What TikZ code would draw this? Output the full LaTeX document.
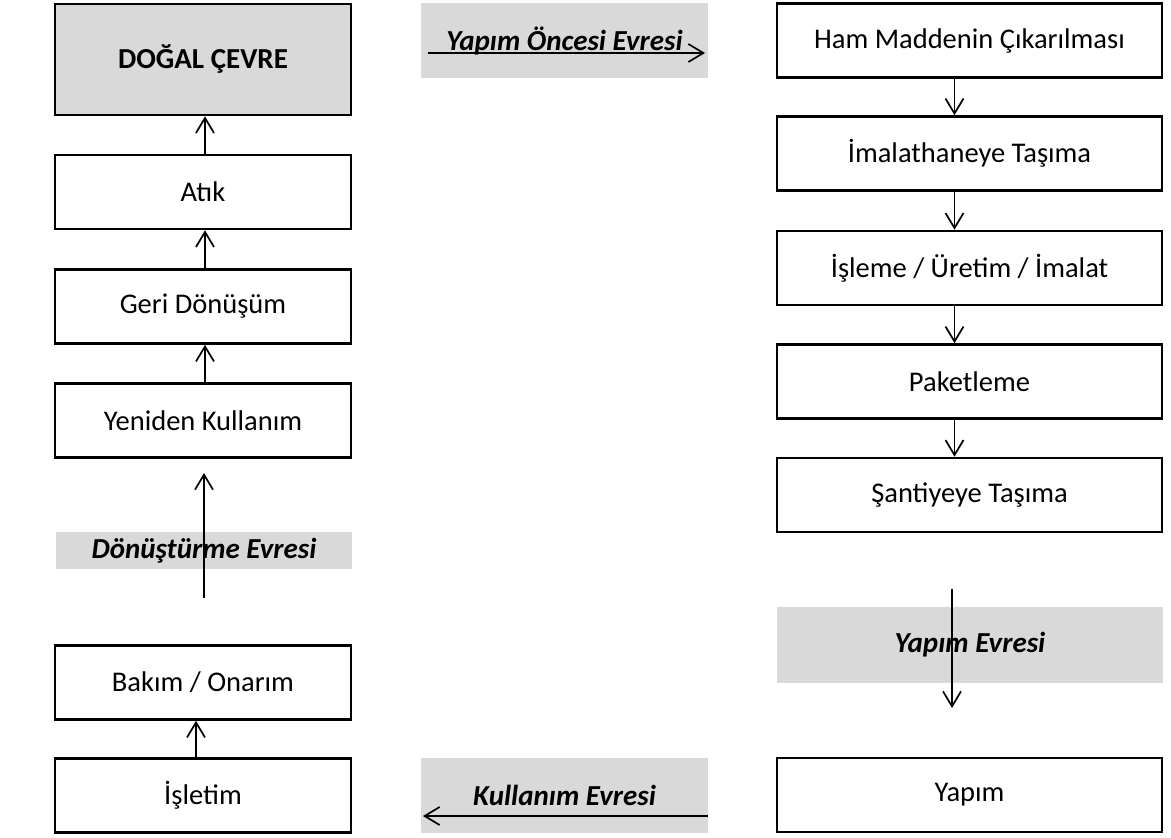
\documentclass[tikz,border=0pt]{standalone}
\usepackage{fontspec}
\setmainfont{Carlito}
\usetikzlibrary{arrows.meta}

\begin{document}
\begin{tikzpicture}[x=1pt,y=-1pt,
    kutu/.style={draw,line width=2.6pt,minimum width=296pt,minimum height=74pt,inner sep=0pt,font=\fontsize{28.5}{32}\selectfont},
    evre/.style={fill=black!15,inner sep=0pt,font=\fontsize{29}{33}\selectfont\bfseries\itshape},
    ok/.style={line width=1.7pt,-{Straight Barb[length=15pt,width=18pt,line width=1.7pt]}}]
    \useasboundingbox (0,0) rectangle (1171,838);

    % sol sutun
    \node (dogal) at (203,59.5) [kutu,fill=black!15,minimum height=111pt,font=\fontsize{29}{33}\selectfont\bfseries] {DOĞAL ÇEVRE};
    \node (atik) at (203,192) [kutu] {Atık};
    \node (geri) at (203,306.5) [kutu] {Geri Dönüşüm};
    \node (yeniden) at (203,420.5) [kutu] {Yeniden Kullanım};
    \node (donusturme) at (204,550.5) [evre,minimum width=296pt,minimum height=37pt] {Dönüştürme Evresi};
    \node (bakim) at (203,682.5) [kutu] {Bakım / Onarım};
    \node (isletim) at (203,795.5) [kutu] {İşletim};

    % orta
    \node (oncesi) at (564.5,40.5) [evre,minimum width=287pt,minimum height=75pt] {\raisebox{2pt}{Yapım Öncesi Evresi}};
    \node (kullanim) at (564.5,795.5) [evre,minimum width=287pt,minimum height=75pt] {Kullanım Evresi};

    % sag sutun
    \node (ham) at (969.5,40.5) [kutu,minimum width=385pt] {Ham Maddenin Çıkarılması};
    \node (imalathane) at (969.5,153.5) [kutu,minimum width=385pt] {İmalathaneye Taşıma};
    \node (isleme) at (969.5,268) [kutu,minimum width=385pt] {İşleme / Üretim / İmalat};
    \node (paket) at (969.5,381.5) [kutu,minimum width=385pt] {Paketleme};
    \node (santiye) at (969.5,495) [kutu,minimum width=385pt] {Şantiyeye Taşıma};
    \node (yapimevre) at (970,645) [evre,minimum width=386pt,minimum height=76pt] {Yapım Evresi};
    \node (yapim) at (969.5,795) [kutu,minimum width=385pt] {Yapım};

    \coordinate (o1) at (428,53);
    \coordinate (o2) at (705,53);
    \coordinate (k1) at (708,816);
    \coordinate (k2) at (423,816);
    \coordinate (d1) at (204,598);
    \coordinate (d2) at (204,473);
    \coordinate (y1) at (952,589);
    \coordinate (y2) at (952,708);

    \draw[ok] ([xshift=2pt]atik.north) -- ([xshift=2pt]dogal.south);
    \draw[ok] ([xshift=2pt]geri.north) -- ([xshift=2pt]atik.south);
    \draw[ok] ([xshift=2pt]yeniden.north) -- ([xshift=2pt]geri.south);
    \draw[ok] (d1) -- (d2);
    \draw[ok] ([xshift=-7pt]isletim.north) -- ([xshift=-7pt]bakim.south);

    \draw[ok] (o1) -- (o2);
    \draw[ok] (k1) -- (k2);

    \draw[ok] ([xshift=-15pt]ham.south) -- ([xshift=-15pt]imalathane.north);
    \draw[ok] ([xshift=-15pt]imalathane.south) -- ([xshift=-15pt]isleme.north);
    \draw[ok] ([xshift=-15pt]isleme.south) -- ([xshift=-15pt]paket.north);
    \draw[ok] ([xshift=-15pt]paket.south) -- ([xshift=-15pt]santiye.north);
    \draw[ok] (y1) -- (y2);

\end{tikzpicture}
\end{document}
